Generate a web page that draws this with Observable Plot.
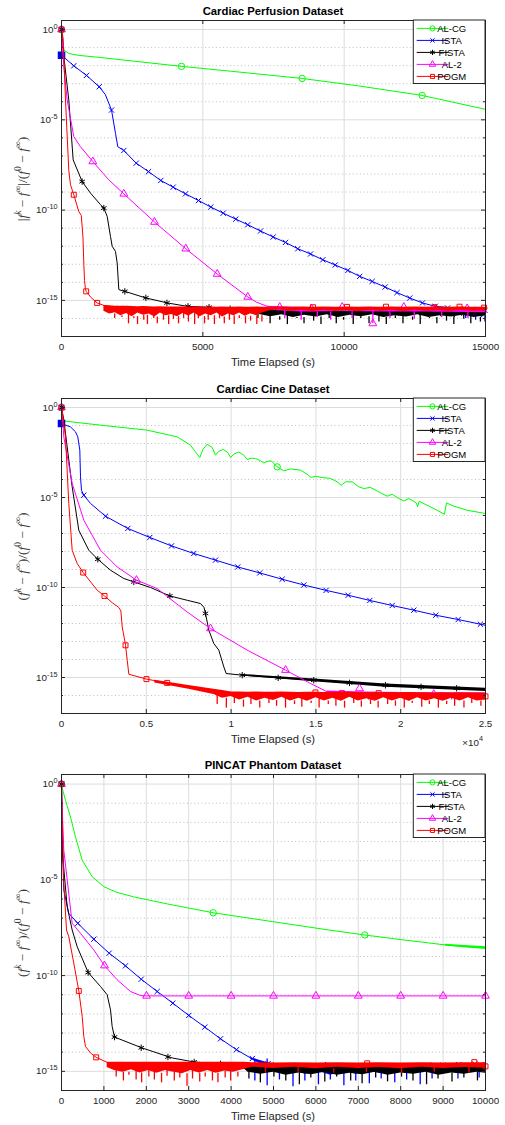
<!DOCTYPE html>
<html><head><meta charset="utf-8">
<script src="https://cdn.jsdelivr.net/npm/d3@7"></script>
<script src="https://cdn.jsdelivr.net/npm/@observablehq/plot@0.6"></script>
<style>
html,body{margin:0;padding:0;background:#fff;}
#chart{width:505px;}
#chart svg{display:block;}
</style></head>
<body><div id="chart"></div>
<script>
// All y values are stored as log10 of the relative cost (f^k - f^inf)/(f^0 - f^inf); t in seconds.
const SERIES = ["AL-CG", "ISTA", "FISTA", "AL-2", "POGM"];
const SERIES_COLORS = ["#00ff00", "#0000ff", "#000000", "#ff00ff", "#ff0000"];
const SERIES_SYMBOLS = ["circle", "times", "asterisk", "triangle", "square"];
const SYMBOL_R = [3.2, 2.5, 3, 2.9, 2.8];

// ===== Panel 1: Cardiac Perfusion Dataset =====
const p1_alcg_t = [0, 40, 100, 260, 600, 1380, 2550, 4245, 6000, 8515, 10500, 12760, 15000];
const p1_alcg_L = [0, -0.9, -1.15, -1.33, -1.43, -1.55, -1.75, -2.04, -2.31, -2.71, -3.12, -3.65, -4.42];
const p1_alcg_mt = [0, 4245, 8515, 12760];
const p1_alcg_mL = [0, -2.04, -2.71, -3.65];

const p1_ista_t = [0, 0, 435, 884, 1334, 1550, 1769, 1910, 1992, 2205, 2642, 3078, 3513, 3950, 4387, 4847, 5282, 5720, 6166, 6590, 7040, 7490, 7925, 8360, 8810, 9245, 9683, 10130, 10550, 10990, 11450, 11870, 12320, 12770, 13220];
const p1_ista_L = [0, -1.42, -2.01, -2.54, -3.17, -3.6, -4.46, -5.75, -6.49, -6.7, -7.4, -7.87, -8.36, -8.73, -9.1, -9.47, -9.83, -10.17, -10.5, -10.81, -11.16, -11.49, -11.79, -12.14, -12.43, -12.75, -13.04, -13.34, -13.67, -13.95, -14.26, -14.57, -14.87, -15.14, -15.33];
const p1_ista_mt = [0, 435, 884, 1334, 1769, 2205, 2642, 3078, 3513, 3950, 4387, 4847, 5282, 5720, 6166, 6590, 7040, 7490, 7925, 8360, 8810, 9245, 9683, 10130, 10550, 10990, 11450, 11870, 12320, 12770, 13220, 13660, 14100, 14540, 14980];
const p1_ista_mL = [0, -2.01, -2.54, -3.17, -4.46, -6.7, -7.4, -7.87, -8.36, -8.73, -9.1, -9.47, -9.83, -10.17, -10.5, -10.81, -11.16, -11.49, -11.79, -12.14, -12.43, -12.75, -13.04, -13.34, -13.67, -13.95, -14.26, -14.57, -14.87, -15.14, -15.33, -15.42, -15.48, -15.5, -15.55];
const p1_ista_sq_t = [0];
const p1_ista_sq_L = [-1.42];
const p1_ista_bt = [13220, 13700, 14200, 14600, 15000];
const p1_ista_bhi = [-15.33, -15.4, -15.42, -15.45, -15.48];
const p1_ista_blo = [-15.45, -15.62, -15.7, -15.72, -15.75];
const p1_ista_st = [13500, 13900, 14300, 14650, 14850, 14980];
const p1_ista_sL = [-15.85, -15.95, -16.0, -16.1, -15.95, -16.2];

const p1_fista_t = [0, 83, 258, 413, 730, 1026, 1380, 1497, 1616, 1733, 1793, 1910, 1970, 2028, 2150, 2240, 2970, 3740, 4447, 5212, 6095, 7280];
const p1_fista_L = [0, -1.51, -3.9, -7.22, -8.42, -9.06, -9.7, -9.89, -10.35, -11.46, -12.0, -12.29, -12.93, -14.4, -14.47, -14.5, -14.86, -15.14, -15.33, -15.38, -15.47, -15.6];
const p1_fista_mt = [0, 730, 1497, 2240, 2985, 3730, 4475, 5220, 5965, 6710, 7455, 8200, 8945, 9690, 10435, 11180, 11925, 12670, 13415, 14160, 14905];
const p1_fista_mL = [0, -8.42, -9.89, -14.5, -14.86, -15.14, -15.33, -15.38, -15.46, -15.55, -15.6, -15.62, -15.65, -15.6, -15.65, -15.62, -15.66, -15.65, -15.7, -15.68, -15.7];
const p1_fista_bt = [5212, 6095, 7000, 7400, 7800, 8200, 8600, 9000, 9400, 9800, 10200, 10600, 11000, 11400, 11800, 12200, 12600, 13000, 13400, 13800, 14200, 14600, 15000];
const p1_fista_bhi = [-15.38, -15.45, -15.5, -15.52, -15.52, -15.54, -15.55, -15.55, -15.55, -15.56, -15.56, -15.56, -15.56, -15.57, -15.57, -15.58, -15.58, -15.58, -15.58, -15.6, -15.6, -15.6, -15.6];
const p1_fista_blo = [-15.45, -15.6, -15.78, -15.9, -15.8, -15.95, -15.82, -15.92, -15.8, -15.95, -15.83, -15.9, -15.8, -15.95, -15.85, -15.92, -15.8, -15.95, -15.85, -15.92, -15.82, -15.95, -15.85];
const p1_fista_st = [6950, 7380, 7720, 7990, 8330, 8580, 8920, 9180, 9470, 9720, 9980, 10320, 10590, 10880, 11230, 11490, 11810, 12080, 12420, 12690, 13020, 13280, 13620, 13880, 14230, 14480, 14820];
const p1_fista_sL = [-16.0, -16.3, -16.1, -16.34, -16.0, -16.3, -16.15, -16.34, -16.0, -16.3, -16.1, -16.34, -16.0, -16.3, -16.2, -16.34, -16.0, -16.3, -16.1, -16.34, -16.0, -16.3, -16.15, -16.34, -16.05, -16.3, -16.2];

const p1_al2_t = [0, 83, 200, 435, 672, 1108, 1675, 2205, 3290, 4397, 5508, 6590, 6900, 7280];
const p1_al2_L = [0, -2.07, -3.9, -5.93, -6.49, -7.31, -8.33, -9.1, -10.66, -12.14, -13.54, -14.81, -15.1, -15.33];
const p1_al2_mt = [0, 1108, 2205, 3290, 4397, 5508, 6590, 7720, 8840, 9930, 11015, 12110, 13230, 14350];
const p1_al2_mL = [0, -7.31, -9.1, -10.66, -12.14, -13.54, -14.81, -15.37, -15.45, -15.37, -16.28, -15.37, -15.45, -15.45];
const p1_al2_bt = [7280, 8500, 10000, 11500, 13000, 15000];
const p1_al2_bhi = [-15.33, -15.4, -15.4, -15.42, -15.42, -15.45];
const p1_al2_blo = [-15.55, -15.65, -15.62, -15.65, -15.65, -15.68];
const p1_al2_st = [7900, 8480, 9050, 9520, 10280, 11015, 11620, 12480, 13450, 14380];
const p1_al2_sL = [-16.0, -16.1, -15.95, -16.1, -16.0, -16.28, -16.0, -16.05, -15.95, -16.0];

const p1_pogm_t = [0, 60, 141, 258, 318, 435, 613, 700, 760, 790, 814, 850, 873, 1050, 1262, 1500, 1733];
const p1_pogm_L = [0, -0.5, -3.9, -7.8, -8.6, -9.15, -10.08, -10.3, -11.5, -13.0, -13.9, -14.4, -14.5, -14.85, -15.14, -15.28, -15.35];
const p1_pogm_mt = [0, 435, 873, 1262, 8900, 10100, 11480, 13190, 14080, 14950];
const p1_pogm_mL = [0, -9.15, -14.5, -15.14, -15.38, -15.36, -15.35, -15.38, -15.35, -15.4];
const p1_pogm_bt = [1500, 1700, 1900, 2100, 2300, 2500, 2700, 2900, 3100, 3300, 3500, 3700, 3900, 4100, 4300, 4500, 4700, 4900, 5100, 5300, 5500, 5700, 5900, 6100, 6300, 6500, 6700, 6900, 7100, 7300, 7700, 8100, 8500, 8900, 9300, 9700, 10100, 10500, 10900, 11300, 11700, 12100, 12500, 12900, 13300, 13700, 14100, 14500, 15000];
const p1_pogm_bhi = [-15.28, -15.3, -15.32, -15.33, -15.33, -15.34, -15.35, -15.34, -15.35, -15.36, -15.35, -15.36, -15.36, -15.37, -15.36, -15.37, -15.37, -15.36, -15.38, -15.37, -15.38, -15.37, -15.38, -15.38, -15.37, -15.38, -15.38, -15.37, -15.38, -15.38, -15.37, -15.38, -15.37, -15.38, -15.36, -15.38, -15.37, -15.38, -15.37, -15.38, -15.36, -15.38, -15.37, -15.38, -15.37, -15.38, -15.37, -15.38, -15.38];
const p1_pogm_blo = [-15.6, -15.75, -15.68, -15.85, -15.72, -15.9, -15.7, -15.82, -15.75, -15.92, -15.7, -15.85, -15.78, -15.9, -15.72, -15.86, -15.7, -15.9, -15.75, -15.85, -15.7, -15.92, -15.76, -15.85, -15.7, -15.88, -15.74, -15.85, -15.7, -15.6, -15.52, -15.6, -15.55, -15.62, -15.54, -15.6, -15.56, -15.63, -15.54, -15.6, -15.55, -15.62, -15.54, -15.6, -15.56, -15.62, -15.55, -15.6, -15.58];
const p1_pogm_st = [1880, 2140, 2370, 2560, 2690, 2910, 3040, 3260, 3390, 3610, 3790, 3960, 4140, 4320, 4490, 4710, 4840, 5060, 5190, 5410, 5590, 5760, 5940, 6110, 6290, 6510, 6690, 6910, 7090];
const p1_pogm_sL = [-16.0, -15.95, -16.3, -16.0, -16.34, -16.1, -16.34, -16.0, -16.3, -16.1, -16.34, -16.05, -16.3, -16.0, -16.2, -16.34, -16.0, -16.3, -16.1, -16.34, -16.0, -16.3, -16.1, -16.34, -16.0, -16.3, -16.15, -16.34, -16.2];

// ===== Panel 2: Cardiac Cine Dataset =====
const p2_alcg_t = [0, 40, 2300, 5053, 6820, 7606, 7900, 8155, 8333, 8590, 8885, 9080, 9275, 9535, 9805, 9965, 10160, 10455, 10750, 10950, 11185, 11440, 11733, 11928, 12128, 12364, 12718, 13107, 13502, 14091, 14486, 14722, 14976, 15370, 15860, 16255, 16490, 16745, 17140, 17530, 17825, 18220, 18710, 19200, 19500, 19890, 20180, 20480, 20930, 20990, 21090, 21560, 22150, 22580, 22700, 23130, 23920, 25000];
const p2_alcg_L = [0, -0.74, -0.98, -1.26, -1.63, -2.09, -2.47, -2.78, -2.33, -2.04, -2.22, -2.65, -2.43, -2.33, -2.5, -2.78, -2.59, -2.47, -2.65, -2.89, -2.82, -2.83, -2.96, -3.08, -3.0, -2.96, -3.3, -3.52, -3.41, -3.48, -3.71, -3.89, -3.82, -3.89, -3.94, -4.13, -4.32, -4.13, -4.13, -4.41, -4.5, -4.44, -4.69, -4.93, -4.82, -5.06, -5.19, -5.06, -5.3, -5.52, -5.21, -5.43, -5.71, -5.93, -5.3, -5.48, -5.71, -5.89];
const p2_alcg_mt = [0, 12718];
const p2_alcg_mL = [0, -3.3];

const p2_ista_t = [0, 0, 530, 825, 960, 1080, 1120, 1180, 1315, 1710, 2595, 3910, 5207, 6485, 7800, 9080, 10395, 11690, 13010, 14290, 15600, 16900, 18180, 19500, 20775, 22070, 23390, 24700, 25000];
const p2_ista_L = [0, -0.89, -1.08, -1.35, -1.63, -2.37, -3.85, -4.6, -4.87, -5.33, -6.04, -6.72, -7.22, -7.69, -8.11, -8.48, -8.86, -9.19, -9.54, -9.86, -10.16, -10.43, -10.72, -11.0, -11.26, -11.54, -11.78, -12.04, -12.1];
const p2_ista_mt = [0, 1315, 2595, 3910, 5207, 6485, 7800, 9080, 10395, 11690, 13010, 14290, 15600, 16900, 18180, 19500, 20775, 22070, 23390, 24700];
const p2_ista_mL = [0, -4.87, -6.04, -6.72, -7.22, -7.69, -8.11, -8.48, -8.86, -9.19, -9.54, -9.86, -10.16, -10.43, -10.72, -11.0, -11.26, -11.54, -11.78, -12.04];
const p2_ista_sq_t = [0];
const p2_ista_sq_L = [-0.89];

const p2_fista_t = [0, 60, 140, 335, 630, 1020, 1610, 2140, 2890, 3675, 4265, 5250, 6390, 7410, 8195, 8400, 8490, 8685, 8980, 9275, 9570, 9710, 10655, 12775, 14875, 16980, 19100, 21170, 25000];
const p2_fista_L = [0, -0.3, -0.7, -2.19, -4.41, -6.82, -7.93, -8.43, -9.04, -9.5, -9.69, -10.0, -10.47, -10.71, -10.89, -11.1, -11.44, -12.37, -13.11, -13.48, -14.41, -14.78, -14.87, -15.02, -15.15, -15.3, -15.43, -15.52, -15.67];
const p2_fista_mt = [0, 2140, 4265, 6390, 8490, 10655, 12775, 14875, 16980, 19100, 21200, 23300];
const p2_fista_mL = [0, -8.43, -9.69, -10.47, -11.44, -14.87, -15.02, -15.15, -15.3, -15.43, -15.52, -15.6];
const p2_fista_bt = [10655, 14875, 19100, 25000];
const p2_fista_bhi = [-14.83, -15.08, -15.36, -15.6];
const p2_fista_blo = [-14.92, -15.24, -15.54, -15.78];

const p2_al2_t = [0, 60, 135, 630, 1315, 2300, 3285, 4420, 5640, 7410, 8785, 10950, 13210, 14680, 15670];
const p2_al2_L = [0, -0.5, -1.63, -4.22, -6.26, -7.93, -8.86, -9.59, -10.06, -11.36, -12.28, -13.48, -14.59, -15.33, -15.8];
const p2_al2_mt = [0, 4420, 8785, 13210, 17570, 21950];
const p2_al2_mL = [0, -9.59, -12.28, -14.59, -15.61, -15.93];
const p2_al2_bt = [15670, 18000, 21000, 25000];
const p2_al2_bhi = [-15.75, -15.8, -15.85, -15.85];
const p2_al2_blo = [-15.95, -16.05, -16.05, -16.1];
const p2_al2_st = [16400, 17200, 18100, 19300, 20500, 21800, 23000, 24300];
const p2_al2_sL = [-16.2, -16.15, -16.25, -16.2, -16.3, -16.2, -16.25, -16.2];

const p2_pogm_t = [0, 80, 235, 430, 630, 925, 1280, 2105, 2535, 3000, 3380, 3500, 3580, 3700, 3775, 3875, 3970, 5010, 6230, 7510, 8980, 10160];
const p2_pogm_L = [0, -0.5, -1.63, -5.33, -7.93, -8.67, -9.17, -10.15, -10.47, -10.85, -11.11, -11.3, -12.19, -12.8, -13.21, -14.04, -14.82, -15.09, -15.3, -15.52, -15.71, -15.85];
const p2_pogm_mt = [0, 1280, 2535, 3775, 5010, 6230, 14975, 16540, 18700, 25000];
const p2_pogm_mL = [0, -9.17, -10.47, -13.21, -15.09, -15.3, -15.83, -15.87, -15.87, -16.05];
const p2_pogm_bt = [5500, 7500, 8980, 9500, 10000, 10500, 11000, 11500, 12000, 12500, 13000, 13500, 14000, 14500, 15000, 15500, 16000, 16500, 17000, 17500, 18000, 18500, 19000, 19500, 20000, 20500, 21000, 21500, 22000, 22500, 23000, 23500, 24000, 24500, 25000];
const p2_pogm_bhi = [-15.15, -15.45, -15.65, -15.72, -15.8, -15.8, -15.82, -15.8, -15.82, -15.82, -15.8, -15.82, -15.83, -15.82, -15.82, -15.83, -15.82, -15.84, -15.83, -15.84, -15.85, -15.84, -15.85, -15.84, -15.85, -15.84, -15.85, -15.85, -15.86, -15.85, -15.86, -15.85, -15.86, -15.86, -15.88];
const p2_pogm_blo = [-15.3, -15.65, -15.95, -16.15, -16.05, -16.25, -16.1, -16.3, -16.15, -16.28, -16.1, -16.3, -16.15, -16.32, -16.12, -16.3, -16.15, -16.32, -16.1, -16.3, -16.18, -16.32, -16.12, -16.3, -16.15, -16.32, -16.12, -16.3, -16.18, -16.32, -16.15, -16.3, -16.12, -16.3, -16.25];
const p2_pogm_st = [9180, 9720, 10190, 10730, 11170, 11690, 12230, 12680, 13210, 13740, 14170, 14720, 15190, 15730, 16180, 16690, 17230, 17680, 18220, 18670, 19230, 19690, 20210, 20680, 21240, 21690, 22220, 22710, 23180, 23730, 24190, 24730];
const p2_pogm_sL = [-16.5, -16.7, -16.45, -16.65, -16.5, -16.7, -16.45, -16.6, -16.7, -16.5, -16.65, -16.45, -16.7, -16.5, -16.6, -16.7, -16.45, -16.65, -16.5, -16.7, -16.5, -16.6, -16.7, -16.45, -16.65, -16.5, -16.7, -16.5, -16.6, -16.7, -16.45, -16.6];

// ===== Panel 3: PINCAT Phantom Dataset =====
const p3_alcg_t = [0, 40, 94, 212, 330, 488, 724, 1000, 1300, 1705, 2500, 3578, 5000, 6305, 7153, 8000, 9056, 10000];
const p3_alcg_L = [0, -0.4, -0.85, -1.72, -2.76, -3.97, -4.84, -5.36, -5.65, -5.89, -6.26, -6.72, -7.19, -7.62, -7.88, -8.12, -8.4, -8.57];
const p3_alcg_mt = [0, 3578, 7153];
const p3_alcg_mL = [0, -6.72, -7.88];
const p3_alcg_bt = [9056, 9500, 10000];
const p3_alcg_bhi = [-8.36, -8.43, -8.5];
const p3_alcg_blo = [-8.46, -8.54, -8.62];

const p3_ista_t = [0, 20, 54, 172, 385, 762, 1124, 1509, 1880, 2257, 2625, 3002, 3380, 3750, 4127, 4458, 4700, 4851];
const p3_ista_L = [0, -3.0, -5.54, -6.75, -7.27, -8.1, -8.83, -9.49, -10.19, -10.83, -11.44, -12.08, -12.69, -13.3, -13.87, -14.3, -14.45, -14.56];
const p3_ista_mt = [0, 385, 762, 1124, 1509, 1880, 2257, 2625, 3002, 3380, 3750, 4127, 4500, 4870, 5250, 5620, 6000, 6370, 6750, 7120, 7500, 7870, 8250, 8620, 9000, 9370, 9750];
const p3_ista_mL = [0, -7.27, -8.1, -8.83, -9.49, -10.19, -10.83, -11.44, -12.08, -12.69, -13.3, -13.87, -14.33, -14.6, -14.82, -14.75, -14.85, -14.78, -14.85, -14.8, -14.85, -14.78, -14.72, -14.7, -14.68, -14.65, -14.62];
const p3_ista_bt = [4458, 4851, 5150, 5450, 5750, 6050, 6350, 6650, 6950, 7250, 7550, 7850, 8150, 8450, 8750, 9050, 9350, 9650, 10000];
const p3_ista_bhi = [-14.3, -14.56, -14.6, -14.62, -14.64, -14.65, -14.65, -14.65, -14.65, -14.65, -14.65, -14.64, -14.63, -14.62, -14.62, -14.61, -14.6, -14.6, -14.58];
const p3_ista_blo = [-14.35, -14.8, -15.1, -14.95, -15.15, -15.0, -15.2, -15.0, -15.15, -15.0, -15.12, -14.98, -15.1, -14.95, -15.05, -14.92, -15.0, -14.9, -14.9];
const p3_ista_st = [4560, 4850, 5140, 5460, 5740, 6060, 6340, 6660, 6940, 7260, 7540, 7860, 8140, 8460, 8740, 9350, 9850];
const p3_ista_sL = [-15.5, -15.75, -15.45, -15.8, -15.5, -15.7, -15.45, -15.75, -15.5, -15.65, -15.4, -15.6, -15.45, -15.7, -15.4, -15.4, -15.35];

const p3_fista_t = [0, 16, 134, 252, 370, 629, 920, 1077, 1156, 1195, 1250, 1903, 2611, 3120, 3750, 4222, 4350];
const p3_fista_L = [0, -3.45, -6.4, -7.62, -8.49, -9.84, -10.57, -11.0, -11.79, -12.66, -13.21, -13.78, -14.3, -14.51, -14.61, -14.65, -14.7];
const p3_fista_mt = [0, 629, 1250, 1880, 2510, 3130, 3750, 4370, 4993, 5610, 6226, 6850, 7470, 8090, 8710, 9332, 9950];
const p3_fista_mL = [0, -9.84, -13.21, -13.77, -14.25, -14.51, -14.61, -14.7, -14.7, -14.75, -14.68, -14.75, -14.72, -14.75, -14.7, -14.72, -14.7];
const p3_fista_bt = [4222, 4400, 4700, 5000, 5300, 5600, 5900, 6200, 6500, 6800, 7100, 7400, 7700, 8000, 8300, 8600, 8900, 9200, 9500, 9800, 10000];
const p3_fista_bhi = [-14.65, -14.68, -14.7, -14.7, -14.7, -14.7, -14.7, -14.7, -14.7, -14.7, -14.7, -14.7, -14.7, -14.7, -14.7, -14.7, -14.7, -14.7, -14.7, -14.7, -14.7];
const p3_fista_blo = [-14.7, -15.05, -15.15, -15.05, -15.2, -15.08, -15.18, -15.05, -15.2, -15.1, -15.18, -15.05, -15.2, -15.08, -15.15, -15.05, -15.2, -15.08, -15.15, -15.05, -15.1];
const p3_fista_st = [4420, 4690, 5010, 5290, 5610, 5880, 6210, 6490, 6820, 7090, 7410, 7690, 8020, 8290, 8610, 8880, 9210, 9490, 9810];
const p3_fista_sL = [-15.4, -15.6, -15.3, -15.5, -15.7, -15.35, -15.55, -15.3, -15.5, -15.65, -15.35, -15.55, -15.3, -15.5, -15.7, -15.4, -15.55, -15.35, -15.5];

const p3_al2_t = [0, 20, 54, 252, 448, 762, 1014, 1313, 1627, 1863, 2005, 10000];
const p3_al2_L = [0, -1.5, -3.45, -7.27, -7.79, -8.66, -9.48, -10.22, -10.83, -11.04, -11.06, -11.06];
const p3_al2_mt = [0, 1014, 2005, 3000, 4000, 5000, 6000, 7000, 8000, 9000, 10000];
const p3_al2_mL = [0, -9.48, -11.06, -11.06, -11.06, -11.06, -11.06, -11.06, -11.06, -11.06, -11.06];

const p3_pogm_t = [0, 20, 54, 118, 172, 290, 408, 488, 526, 566, 684, 818, 1077];
const p3_pogm_L = [0, -2.0, -5.19, -7.62, -7.97, -9.35, -10.8, -12.13, -13.18, -13.7, -14.04, -14.27, -14.53];
const p3_pogm_mt = [0, 408, 818, 7209, 9736, 10000];
const p3_pogm_mL = [0, -10.8, -14.27, -14.58, -14.52, -14.74];
const p3_pogm_bt = [1077, 1250, 1450, 1650, 1850, 2050, 2250, 2450, 2650, 2850, 3050, 3250, 3450, 3650, 3850, 4050, 4300, 4500, 5000, 5500, 6000, 6500, 7000, 7500, 8000, 8500, 9000, 9500, 10000];
const p3_pogm_bhi = [-14.53, -14.52, -14.52, -14.53, -14.52, -14.52, -14.53, -14.52, -14.52, -14.53, -14.52, -14.52, -14.53, -14.52, -14.53, -14.52, -14.53, -14.55, -14.56, -14.55, -14.56, -14.55, -14.56, -14.55, -14.56, -14.55, -14.56, -14.55, -14.55];
const p3_pogm_blo = [-14.8, -14.95, -15.05, -14.92, -15.08, -14.95, -15.1, -14.95, -15.05, -15.12, -14.95, -15.08, -14.95, -15.1, -14.98, -15.05, -14.9, -14.78, -14.85, -14.78, -14.86, -14.78, -14.85, -14.8, -14.86, -14.78, -14.85, -14.8, -14.84];
const p3_pogm_st = [1290, 1460, 1590, 1760, 1890, 2060, 2190, 2360, 2490, 2660, 2790, 2960, 3090, 3260, 3390, 3560, 3690, 3860, 3990, 4160, 4810, 5580, 6420, 7190, 8020, 8790, 9610];
const p3_pogm_sL = [-15.3, -15.5, -15.2, -15.45, -15.6, -15.3, -15.45, -15.6, -15.25, -15.5, -15.35, -15.78, -15.4, -15.55, -15.3, -15.5, -15.6, -15.35, -15.5, -15.3, -15.1, -15.05, -15.1, -15.05, -15.1, -15.05, -15.1];

// ===== axis ticks =====
const p1_xticks = [0, 5000, 10000, 15000];
const p2_xticks = [0, 5000, 10000, 15000, 20000, 25000];
const p3_xticks = [0, 1000, 2000, 3000, 4000, 5000, 6000, 7000, 8000, 9000, 10000];

// ===== helpers =====
const rows = (t, L) => t.map((d, i) => ({t: d, v: Math.pow(10, L[i])}));
const bandRows = (t, hi, lo) => t.map((d, i) => ({t: d, hi: Math.pow(10, hi[i]), lo: Math.pow(10, lo[i])}));
function loAt(bt, blo, t) { let k = 0; for (let i = 0; i < bt.length; i++) if (bt[i] <= t) k = i; return blo[k]; }
const spikeRows = (bt, blo, st, sL) => st.map((d, i) => ({t: d, top: Math.pow(10, loAt(bt, blo, d)), v: Math.pow(10, sL[i])}));

const NS = "http://www.w3.org/2000/svg";
function mathText(sel, parts, base, sup) {
  let shift = 0;
  parts.forEach(([s, isSup, ital]) => {
    const ts = sel.append("tspan").text(s);
    if (isSup) { ts.attr("font-size", sup).attr("dy", -base * 0.42 - shift); shift = -base * 0.42; }
    else { ts.attr("dy", -shift); shift = 0; }
    ts.attr("font-style", ital ? "italic" : "normal");
  });
}

function buildPanel(P) {
  const W = 505, H = 375, ml = 61, mr = 20, mt = P.mt, mb = P.mb;
  const fw = W - ml - mr, fh = H - mt - mb;
  const exps = d3.range(P.ymin, 1);
  const majors = exps.filter(e => e % 5 === 0).map(e => Math.pow(10, e));
  const minors = exps.filter(e => e % 5 !== 0 && e > P.ymin).map(e => Math.pow(10, e));
  const marks = [
    Plot.ruleY(minors, {stroke: "#b8b8b8", strokeDasharray: "1,2.6", strokeWidth: 0.9}),
    Plot.ruleY(majors, {stroke: "#dcdcdc"}),
    Plot.ruleX(P.xticks, {stroke: "#dcdcdc"})
  ];
  P.series.forEach(s => {
    const k = SERIES.indexOf(s.name);
    const col = SERIES_COLORS[k];
    if (s.band) marks.push(Plot.areaY(bandRows(...s.band), {x: "t", y1: "hi", y2: "lo", fill: col}));
    marks.push(Plot.line(rows(...s.line), {x: "t", y: "v", stroke: col, strokeWidth: 1}));
    if (s.spikes) marks.push(Plot.ruleX(spikeRows(s.band[0], s.band[2], ...s.spikes), {x: "t", y1: "top", y2: "v", stroke: col, strokeWidth: 1.3}));
    if (s.square) marks.push(Plot.dot(rows(...s.square), {x: "t", y: "v", symbol: "square", r: 3.4, fill: col, stroke: col}));
    marks.push(Plot.dot(rows(...s.markers), {x: "t", y: "v", symbol: SERIES_SYMBOLS[k], r: SYMBOL_R[k], stroke: col, fill: "none", strokeWidth: 1}));
  });
  marks.push(
    Plot.tickY(majors, {insetRight: fw - 4, stroke: "#262626"}),
    Plot.tickY(majors, {insetLeft: fw - 4, stroke: "#262626"}),
    Plot.tickY(minors, {insetRight: fw - 2, stroke: "#262626"}),
    Plot.tickY(minors, {insetLeft: fw - 2, stroke: "#262626"}),
    Plot.tickX(P.xticks, {insetTop: fh - 4, stroke: "#262626"}),
    Plot.tickX(P.xticks, {insetBottom: fh - 4, stroke: "#262626"}),
    Plot.frame({stroke: "#262626"}),
    Plot.axisX({ticks: P.xticks, tickSize: 0, tickPadding: 7, tickFormat: P.xfmt, label: null}),
    Plot.axisY({ticks: majors, tickSize: 0, tickPadding: 4, tickFormat: d => "10^" + Math.round(Math.log10(d)), label: null})
  );
  const svg = Plot.plot({
    width: W, height: H, marginLeft: ml, marginRight: mr, marginTop: mt, marginBottom: mb,
    x: {domain: [0, P.xmax]},
    y: {type: "log", domain: [Math.pow(10, P.ymin), Math.pow(10, 0.5)]},
    style: {background: "#fff", fontFamily: "'Liberation Sans', Arial, Helvetica, sans-serif", fontSize: "9.8px", color: "#262626", overflow: "visible"},
    marks
  });
  svg.querySelectorAll('[aria-label="y-axis tick label"] text').forEach(t => {
    const [b, e] = t.textContent.split("^");
    t.textContent = b;
    const ts = document.createElementNS(NS, "tspan");
    ts.setAttribute("dy", "-4"); ts.setAttribute("font-size", "7.3"); ts.textContent = e;
    t.appendChild(ts);
  });
  const g = d3.select(svg);
  const cx = ml + fw / 2;
  g.append("text").attr("x", cx).attr("y", mt - 5).attr("text-anchor", "middle")
    .attr("font-weight", "bold").attr("font-size", 11.3).attr("fill", "#000").text(P.title);
  g.append("text").attr("x", cx).attr("y", H - mb + 29.5).attr("text-anchor", "middle")
    .attr("font-size", 11.2).attr("fill", "#262626").text("Time Elapsed (s)");
  if (P.expLabel) {
    const ex = g.append("text").attr("x", 483).attr("y", H - mb + 32.5).attr("text-anchor", "end")
      .attr("font-size", 9.8).attr("fill", "#262626");
    mathText(ex, [["\u00d710", 0, 0], [P.expLabel, 1, 0]], 9.8, 7.3);
  }
  const yl = g.append("text").attr("transform", `translate(26.5,${mt + fh / 2 + 1}) rotate(-90)`)
    .attr("text-anchor", "middle").attr("font-family", "'Liberation Serif', 'Times New Roman', serif")
    .attr("font-size", 13.5).attr("fill", "#3a3a3a");
  mathText(yl, P.ylabel, 13.5, 9.5);
  const lw = 71.7, lh = 63.5, lx = ml + fw - lw, ly = mt;
  const lg = g.append("g");
  lg.append("rect").attr("x", lx).attr("y", ly).attr("width", lw).attr("height", lh)
    .attr("fill", "#fff").attr("stroke", "#262626").attr("stroke-width", 1);
  const d3sym = {circle: d3.symbolCircle, times: d3.symbolTimes, asterisk: d3.symbolAsterisk, triangle: d3.symbolTriangle, square: d3.symbolSquare};
  SERIES.forEach((name, i) => {
    const y = ly + 8.4 + i * 12;
    const r = SYMBOL_R[i] * 0.82;
    lg.append("line").attr("x1", lx + 3.4).attr("x2", lx + 35).attr("y1", y).attr("y2", y)
      .attr("stroke", SERIES_COLORS[i]).attr("stroke-width", 1);
    lg.append("path").attr("d", d3.symbol(d3sym[SERIES_SYMBOLS[i]], Math.PI * r * r)())
      .attr("transform", `translate(${lx + 19.2},${y})`).attr("fill", "none").attr("stroke", SERIES_COLORS[i]);
    lg.append("text").attr("x", lx + 38.4).attr("y", y).attr("dy", "0.35em").attr("font-size", 9.5)
      .attr("fill", "#000").text(name);
  });
  return svg;
}

const LABEL_ABS = [["|", 0, 0], ["f", 0, 1], ["k", 1, 1], [" \u2212 ", 0, 0], ["f", 0, 1], ["\u221e", 1, 0], ["|/(", 0, 0], ["f", 0, 1], ["0", 1, 0], [" \u2212 ", 0, 0], ["f", 0, 1], ["\u221e", 1, 0], [")", 0, 0]];
const LABEL_REL = [["(", 0, 0], ["f", 0, 1], ["k", 1, 1], [" \u2212 ", 0, 0], ["f", 0, 1], ["\u221e", 1, 0], [")/(", 0, 0], ["f", 0, 1], ["0", 1, 0], [" \u2212 ", 0, 0], ["f", 0, 1], ["\u221e", 1, 0], [")", 0, 0]];

const panels = [
  {
    title: "Cardiac Perfusion Dataset", mt: 20, mb: 39, xmax: 15000, ymin: -17,
    xticks: p1_xticks, xfmt: d => String(d), ylabel: LABEL_ABS,
    series: [
      {name: "AL-CG", line: [p1_alcg_t, p1_alcg_L], markers: [p1_alcg_mt, p1_alcg_mL]},
      {name: "ISTA", line: [p1_ista_t, p1_ista_L], markers: [p1_ista_mt, p1_ista_mL], square: [p1_ista_sq_t, p1_ista_sq_L],
        band: [p1_ista_bt, p1_ista_bhi, p1_ista_blo], spikes: [p1_ista_st, p1_ista_sL]},
      {name: "FISTA", line: [p1_fista_t, p1_fista_L], markers: [p1_fista_mt, p1_fista_mL],
        band: [p1_fista_bt, p1_fista_bhi, p1_fista_blo], spikes: [p1_fista_st, p1_fista_sL]},
      {name: "AL-2", line: [p1_al2_t, p1_al2_L], markers: [p1_al2_mt, p1_al2_mL],
        band: [p1_al2_bt, p1_al2_bhi, p1_al2_blo], spikes: [p1_al2_st, p1_al2_sL]},
      {name: "POGM", line: [p1_pogm_t, p1_pogm_L], markers: [p1_pogm_mt, p1_pogm_mL],
        band: [p1_pogm_bt, p1_pogm_bhi, p1_pogm_blo], spikes: [p1_pogm_st, p1_pogm_sL]}
    ]
  },
  {
    title: "Cardiac Cine Dataset", mt: 23, mb: 37, xmax: 25000, ymin: -17,
    xticks: p2_xticks, xfmt: d => String(d / 10000), expLabel: "4", ylabel: LABEL_REL,
    series: [
      {name: "AL-CG", line: [p2_alcg_t, p2_alcg_L], markers: [p2_alcg_mt, p2_alcg_mL]},
      {name: "ISTA", line: [p2_ista_t, p2_ista_L], markers: [p2_ista_mt, p2_ista_mL], square: [p2_ista_sq_t, p2_ista_sq_L]},
      {name: "FISTA", line: [p2_fista_t, p2_fista_L], markers: [p2_fista_mt, p2_fista_mL],
        band: [p2_fista_bt, p2_fista_bhi, p2_fista_blo]},
      {name: "AL-2", line: [p2_al2_t, p2_al2_L], markers: [p2_al2_mt, p2_al2_mL],
        band: [p2_al2_bt, p2_al2_bhi, p2_al2_blo], spikes: [p2_al2_st, p2_al2_sL]},
      {name: "POGM", line: [p2_pogm_t, p2_pogm_L], markers: [p2_pogm_mt, p2_pogm_mL],
        band: [p2_pogm_bt, p2_pogm_bhi, p2_pogm_blo], spikes: [p2_pogm_st, p2_pogm_sL]}
    ]
  },
  {
    title: "PINCAT Phantom Dataset", mt: 24, mb: 35, xmax: 10000, ymin: -16,
    xticks: p3_xticks, xfmt: d => String(d), ylabel: LABEL_REL,
    series: [
      {name: "AL-CG", line: [p3_alcg_t, p3_alcg_L], markers: [p3_alcg_mt, p3_alcg_mL],
        band: [p3_alcg_bt, p3_alcg_bhi, p3_alcg_blo]},
      {name: "ISTA", line: [p3_ista_t, p3_ista_L], markers: [p3_ista_mt, p3_ista_mL],
        band: [p3_ista_bt, p3_ista_bhi, p3_ista_blo], spikes: [p3_ista_st, p3_ista_sL]},
      {name: "FISTA", line: [p3_fista_t, p3_fista_L], markers: [p3_fista_mt, p3_fista_mL],
        band: [p3_fista_bt, p3_fista_bhi, p3_fista_blo], spikes: [p3_fista_st, p3_fista_sL]},
      {name: "AL-2", line: [p3_al2_t, p3_al2_L], markers: [p3_al2_mt, p3_al2_mL]},
      {name: "POGM", line: [p3_pogm_t, p3_pogm_L], markers: [p3_pogm_mt, p3_pogm_mL],
        band: [p3_pogm_bt, p3_pogm_bhi, p3_pogm_blo], spikes: [p3_pogm_st, p3_pogm_sL]}
    ]
  }
];

const root = document.getElementById("chart");
panels.forEach(P => root.appendChild(buildPanel(P)));
</script>
</body></html>
